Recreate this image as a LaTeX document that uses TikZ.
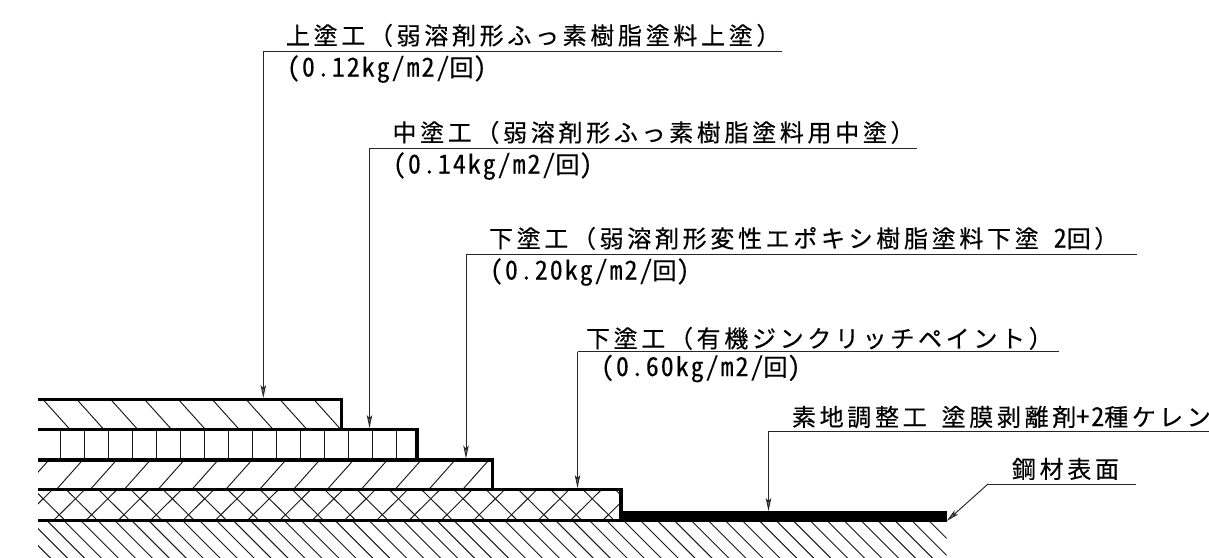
\documentclass[tikz,border=0pt]{standalone}
\usepackage{fontspec}
\usetikzlibrary{arrows.meta}
\newfontfamily\jpf[LetterSpace=15.3,FakeBold=0.35]{Noto Sans CJK JP}
\newfontfamily\asc[RawFeature=+hwid,LetterSpace=7.5,FakeBold=0.15]{Noto Sans CJK JP}
\newcommand{\J}[1]{{\jpf\fontsize{24}{24}\selectfont #1}}
\newcommand{\A}[1]{{\asc\fontsize{26}{26}\selectfont #1}}
\tikzset{
  x=1pt,y=-1pt,
  lab/.style={anchor=base west,inner sep=0pt,outer sep=0pt},
  thick outline/.style={line width=3.6pt,black,line cap=butt,line join=miter},
  hatchline/.style={line width=0.95pt,black!90},
  leader/.style={line width=0.95pt,black!85},
  leaderarrow/.style={leader,-{Stealth[length=13pt,width=5.5pt,inset=3pt,fill=black!55]}},
}
\begin{document}
\begin{tikzpicture}
\useasboundingbox (0,0) rectangle (1209,557);
% hatching
\begin{scope}
\clip (38,400) rectangle (341,430);
\foreach \k in {0,...,8} \draw[hatchline] ({43.5+33.85*\k},400) -- ({43.5+27+33.85*\k},430);
\end{scope}
\foreach \k in {0,...,14} \draw[hatchline] ({60.3+24*\k},430) -- ({60.3+24*\k},460);
\begin{scope}
\clip (38,460) rectangle (492,490);
\foreach \k in {-1,...,12} \draw[hatchline] ({56+33.85*\k},490) -- ({82.7+33.85*\k},460);
\end{scope}
\begin{scope}
\clip (38,490) rectangle (620,520);
\foreach \k in {-1,...,18} {
  \draw[hatchline] ({54+32.3*\k},520) -- ({84.3+32.3*\k},490);
  \draw[hatchline] ({34.3+32.3*\k},490) -- ({64.7+32.3*\k},520);
}
\end{scope}
\begin{scope}
\clip (38,520) rectangle (946.7,557);
\foreach \k in {-3,...,52} \draw[hatchline] ({63.3+16.96*\k},520) -- ({63.3+40+16.96*\k},560);
\end{scope}
% outlines
\draw[thick outline] (38,399.5) -- (341.5,399.5) -- (341.5,429.5);
\draw[thick outline] (38,429.5) -- (417,429.5) -- (417,460);
\draw[thick outline] (38,460) -- (492.5,460) -- (492.5,489.5);
\draw[thick outline] (38,489.5) -- (620.7,489.5) -- (620.7,520.3);
\draw[thick outline] (38,520.3) -- (946.7,520.3);
\fill (620.7,510.5) rectangle (946.7,522.3);
% leaders
\coordinate (a1) at (263.3,51); \coordinate (a1e) at (782,51); \coordinate (a1t) at (263.3,398);
\coordinate (a2) at (369.5,148); \coordinate (a2e) at (917,148); \coordinate (a2t) at (369.5,428);
\coordinate (a3) at (466,254); \coordinate (a3e) at (1137,254); \coordinate (a3t) at (466,458.5);
\coordinate (a4) at (577.5,351.5); \coordinate (a4e) at (1059,351.5); \coordinate (a4t) at (577.5,488);
\coordinate (a5) at (768.5,431); \coordinate (a5e) at (1209,431); \coordinate (a5t) at (768.5,511);
\coordinate (a6) at (988,484); \coordinate (a6e) at (1135.7,484); \coordinate (a6t) at (946.7,521);
\foreach \n in {1,...,6} {
  \draw[leader] (a\n) -- (a\n e);
  \draw[leaderarrow] (a\n) -- (a\n t);
}
% labels
\node[lab] (t1) at (286,44.5) {\J{上塗工（弱溶剤形ふっ素樹脂塗料上塗）}};
\node[lab] (n1) at (287,76.5) {\A{(0.12kg/m2/}\J{回}\A{)}};
\node[lab] (t2) at (392.5,141.5) {\J{中塗工（弱溶剤形ふっ素樹脂塗料用中塗）}};
\node[lab] (n2) at (393,173.5) {\A{(0.14kg/m2/}\J{回}\A{)}};
\node[lab] (t3) at (489,247.5) {\J{下塗工（弱溶剤形変性エポキシ樹脂塗料下塗}\A{ 2}\J{回）}};
\node[lab] (n3) at (490,279.5) {\A{(0.20kg/m2/}\J{回}\A{)}};
\node[lab] (t4) at (586,347.5) {\J{下塗工（有機ジンクリッチペイント）}};
\node[lab] (n4) at (601,376) {\A{(0.60kg/m2/}\J{回}\A{)}};
\node[lab] (t5) at (792,426) {\J{素地調整工}\A{ }\J{塗膜剥離剤}\A{+2}\J{種ケレン}};
\node[lab] (t6) at (1012,478) {\J{鋼材表面}};
\end{tikzpicture}
\end{document}
